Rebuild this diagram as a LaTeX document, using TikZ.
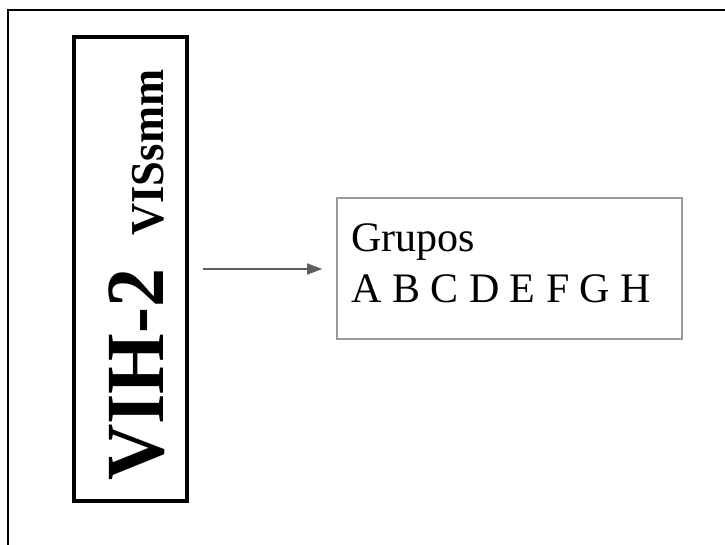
\documentclass[tikz,border=0pt]{standalone}
\usepackage{fontspec}
\setmainfont{Liberation Serif}
\usetikzlibrary{arrows.meta}
\definecolor{boxgray}{HTML}{9A9A9A}
\definecolor{arrowgray}{HTML}{5E5E5E}
\tikzset{
  frameline/.style={line width=1.3pt, black},
  virusbox/.style={draw, line width=3.6pt, rectangle, inner sep=0pt,
    minimum width=113pt, minimum height=464pt},
  groupbox/.style={draw=boxgray, line width=1.6pt, rectangle, inner sep=0pt,
    minimum width=345pt, minimum height=141pt},
  grouptext/.style={inner sep=0pt, anchor=base west,
    font=\fontsize{42}{42}\selectfont},
  linkarrow/.style={draw=arrowgray, line width=1.6pt,
    -{Triangle[length=15pt,width=11pt]}, shorten <=14pt, shorten >=14pt}
}
\begin{document}
\begin{tikzpicture}[x=1pt,y=-1pt]
  \useasboundingbox (0,0) rectangle (725,545);
  % outer frame (top and left edges)
  \draw[frameline] (8,546) -- (8,10) -- (726,10);
  % vertical box with rotated title
  \node[virusbox] (vbox) at (130.5,269) {};
  \node[rotate=90, anchor=base west, inner sep=0pt, font=\bfseries] (vlabel) at (163,481)
    {\scalebox{1}[1.06]{\fontsize{78}{78}\selectfont VIH-2\hspace{33pt}\fontsize{44.5}{44.5}\selectfont VISsmm}};
  % group box
  \node[groupbox] (gbox) at (509.5,268.5) {};
  \node[grouptext] (grupos) at (351,252) {Grupos};
  \node[grouptext] (letters) at (351,302) {A B C D E F G H};
  % connector
  \draw[linkarrow] (vbox.east) -- (vbox.east -| gbox.west);
\end{tikzpicture}
\end{document}
